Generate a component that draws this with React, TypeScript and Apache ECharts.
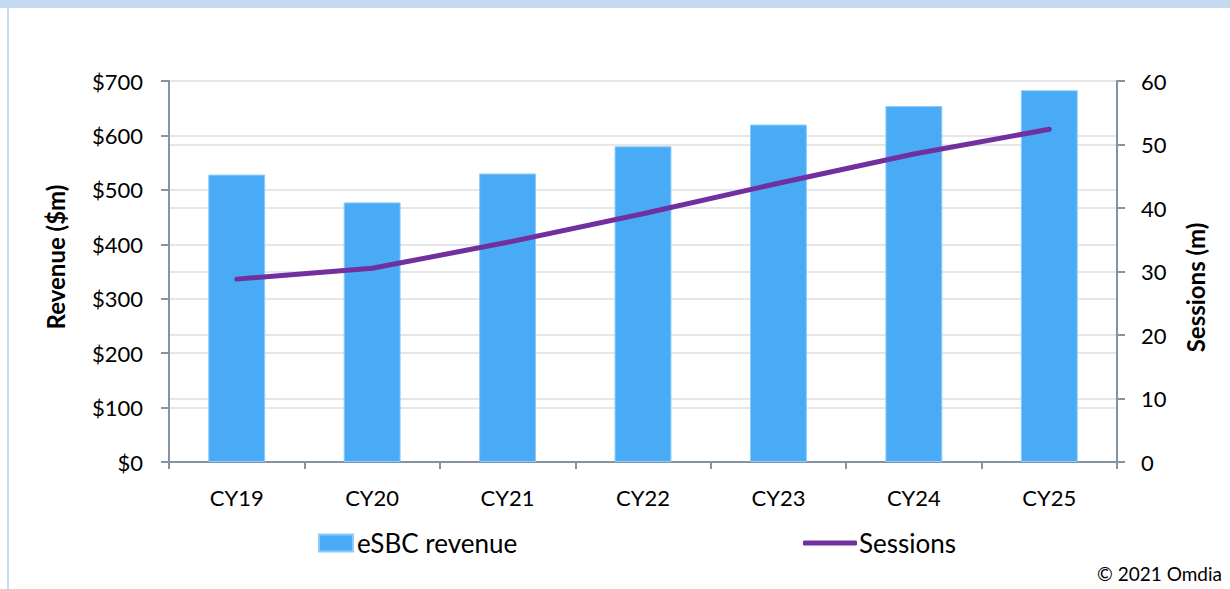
import React, { useEffect, useRef } from "react";
import * as echarts from "echarts";

const categories = ["CY19", "CY20", "CY21", "CY22", "CY23", "CY24", "CY25"];
const revenue = [528, 477, 530, 580, 620, 654, 683];
const sessions = [28.8, 30.5, 34.6, 39.1, 43.9, 48.5, 52.4];
const leftTicks = { min: 0, max: 700, interval: 100 };
const rightTicks = { min: 0, max: 60, interval: 10 };

const FONT = "Lato, 'Noto Sans', sans-serif";
const AXIS_COLOR = "#8593A3";
const GRID_COLOR = "#E6E6E6";

export default function App() {
  const ref = useRef<HTMLDivElement>(null);
  useEffect(() => {
    if (!ref.current) return;
    const chart = echarts.init(ref.current, undefined, { renderer: "svg" });
    chart.setOption({
      animation: false,
      backgroundColor: "#ffffff",
      textStyle: { fontFamily: FONT },
      grid: { left: 169, right: 113, top: 81, bottom: 127, containLabel: false },
      legend: [
        {
          data: [{ name: "eSBC revenue", icon: "rect" }],
          left: 318,
          top: 530,
          itemWidth: 34,
          itemHeight: 17,
          itemGap: 0,
          textStyle: { fontFamily: FONT, fontSize: 26, color: "#000", padding: [0, 0, 0, -1] },
          padding: 0,
        },
        {
          data: [{ name: "Sessions", icon: "roundRect" }],
          left: 803,
          top: 530,
          itemWidth: 54,
          itemHeight: 5,
          itemGap: 0,
          textStyle: { fontFamily: FONT, fontSize: 26, color: "#000", padding: [0, 0, 0, -3] },
          padding: 0,
        },
      ],
      xAxis: {
        type: "category",
        data: categories,
        boundaryGap: true,
        axisLine: { lineStyle: { color: AXIS_COLOR, width: 2 } },
        axisTick: { show: true, length: 7, lineStyle: { color: AXIS_COLOR, width: 2 } },
        axisLabel: { color: "#000", fontSize: 22, margin: 24, fontFamily: FONT },
      },
      yAxis: [
        {
          type: "value",
          ...leftTicks,
          position: "left",
          name: "Revenue ($m)",
          nameLocation: "middle",
          nameRotate: 90,
          nameGap: 102,
          nameTextStyle: {
            fontSize: 24,
            fontWeight: "bold",
            color: "#000",
            fontFamily: FONT,
            padding: [0, 0, 0, 29],
          },
          axisLine: { show: true, lineStyle: { color: AXIS_COLOR, width: 2 } },
          axisTick: { show: true, length: 8, lineStyle: { color: AXIS_COLOR, width: 2 } },
          axisLabel: {
            color: "#000",
            fontSize: 22,
            margin: 26,
            fontFamily: FONT,
            formatter: (v: number) => "$" + v,
          },
          splitLine: { show: true, lineStyle: { color: GRID_COLOR, width: 2 } },
        },
        {
          type: "value",
          ...rightTicks,
          position: "right",
          name: "Sessions (m)",
          nameLocation: "middle",
          nameRotate: 90,
          nameGap: 66,
          nameTextStyle: {
            fontSize: 24,
            fontWeight: "bold",
            color: "#000",
            fontFamily: FONT,
            padding: [0, 32, 0, 0],
          },
          axisLine: { show: true, lineStyle: { color: AXIS_COLOR, width: 2 } },
          axisTick: { show: true, length: 8, lineStyle: { color: AXIS_COLOR, width: 2 } },
          axisLabel: { color: "#000", fontSize: 22, margin: 24, fontFamily: FONT },
          splitLine: { show: true, lineStyle: { color: GRID_COLOR, width: 2 } },
        },
      ],
      series: [
        {
          name: "eSBC revenue",
          type: "bar",
          yAxisIndex: 0,
          data: revenue,
          barWidth: "42%",
          itemStyle: { color: "#49ABF6", borderColor: "#8CCBFA", borderWidth: 1 },
        },
        {
          name: "Sessions",
          type: "line",
          yAxisIndex: 1,
          data: sessions,
          symbol: "none",
          lineStyle: { color: "#7030A0", width: 5, cap: "round" },
          itemStyle: { color: "#7030A0" },
        },
      ],
      graphic: [
        {
          type: "rect",
          left: 0,
          top: 0,
          shape: { width: 1230, height: 8 },
          style: { fill: "#C5D9F1" },
          z: 10,
        },
        {
          type: "rect",
          left: 7,
          top: 0,
          shape: { width: 2, height: 589 },
          style: { fill: "#C5D9F1" },
          z: 10,
        },
        {
          type: "text",
          right: 8,
          top: 564,
          style: { text: "© 2021 Omdia", fontSize: 19, fill: "#000", fontFamily: FONT },
        },
      ],
    });
    return () => chart.dispose();
  }, []);
  return (
    <div
      ref={ref}
      style={{ position: "fixed", left: 0, top: 0, width: 1230, height: 589 }}
    />
  );
}
